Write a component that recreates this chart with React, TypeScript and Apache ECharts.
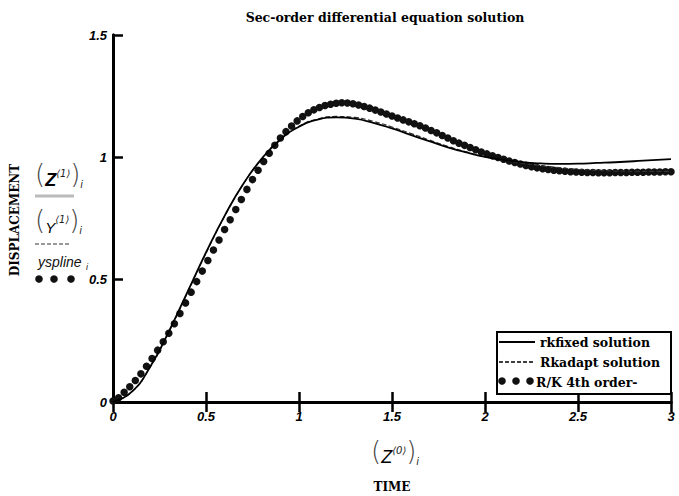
import React, { useEffect, useRef } from "react";
import * as echarts from "echarts";

// ---- data ----
const TITLE = "Sec-order differential equation solution";
const Y_NAME = "DISPLACEMENT";
const X_NAME = "TIME";
const xTicks = [0, 0.5, 1, 1.5, 2, 2.5, 3];
const yTicks = [0, 0.5, 1, 1.5];
const seriesNames = ["rkfixed solution", "Rkadapt solution", "R/K 4th order-"];

// rkfixed solution (solid)
const solidTime = [0, 0.1, 0.2, 0.3, 0.4, 0.5, 0.6, 0.7, 0.8, 0.9, 1.0, 1.1, 1.2, 1.3, 1.4, 1.5, 1.6, 1.7, 1.8, 1.9, 2.0, 2.1, 2.2, 2.3, 2.4, 2.5, 2.6, 2.7, 2.8, 2.9, 3.0];
const solidDisp = [0, 0.041, 0.144, 0.288, 0.449, 0.611, 0.761, 0.891, 0.995, 1.073, 1.125, 1.154, 1.163, 1.158, 1.141, 1.118, 1.092, 1.066, 1.041, 1.020, 1.002, 0.989, 0.980, 0.975, 0.973, 0.974, 0.977, 0.980, 0.984, 0.989, 0.993];

// Rkadapt solution (dashed)
const dashTime = [0, 0.1, 0.2, 0.3, 0.4, 0.5, 0.6, 0.7, 0.8, 0.9, 1.0, 1.1, 1.2, 1.3, 1.4, 1.5, 1.6, 1.7, 1.8, 1.9, 2.0, 2.1, 2.2, 2.3, 2.4, 2.5, 2.6, 2.7, 2.8, 2.9, 3.0];
const dashDisp = [0, 0.040, 0.142, 0.285, 0.446, 0.608, 0.759, 0.890, 0.995, 1.074, 1.127, 1.157, 1.167, 1.163, 1.147, 1.124, 1.098, 1.071, 1.045, 1.022, 1.002, 0.987, 0.976, 0.966, 0.958, 0.951, 0.947, 0.944, 0.943, 0.943, 0.943];

// R/K 4th order (dots)
const dotTime = [
  0, 0.03, 0.06, 0.09, 0.12, 0.15, 0.18, 0.21, 0.24, 0.27,
  0.30, 0.33, 0.36, 0.39, 0.42, 0.45, 0.48, 0.51, 0.54, 0.57,
  0.60, 0.63, 0.66, 0.69, 0.72, 0.75, 0.78, 0.81, 0.84, 0.87,
  0.90, 0.93, 0.96, 0.99, 1.02, 1.05, 1.08, 1.11, 1.14, 1.17,
  1.20, 1.23, 1.26, 1.29, 1.32, 1.35, 1.38, 1.41, 1.44, 1.47,
  1.50, 1.53, 1.56, 1.59, 1.62, 1.65, 1.68, 1.71, 1.74, 1.77,
  1.80, 1.83, 1.86, 1.89, 1.92, 1.95, 1.98, 2.01, 2.04, 2.07,
  2.10, 2.13, 2.16, 2.19, 2.22, 2.25, 2.28, 2.31, 2.34, 2.37,
  2.40, 2.43, 2.46, 2.49, 2.52, 2.55, 2.58, 2.61, 2.64, 2.67,
  2.70, 2.73, 2.76, 2.79, 2.82, 2.85, 2.88, 2.91, 2.94, 2.97,
  3.00,
];
const dotDisp = [
  0.004, 0.017, 0.040, 0.062, 0.088, 0.115, 0.146, 0.178, 0.212, 0.246,
  0.281, 0.320, 0.362, 0.405, 0.449, 0.492, 0.535, 0.578, 0.621, 0.662,
  0.705, 0.745, 0.787, 0.828, 0.869, 0.909, 0.947, 0.983, 1.017, 1.049,
  1.079, 1.105, 1.128, 1.149, 1.167, 1.182, 1.194, 1.204, 1.212, 1.217,
  1.221, 1.223, 1.222, 1.219, 1.214, 1.208, 1.201, 1.193, 1.185, 1.177,
  1.169, 1.161, 1.153, 1.145, 1.137, 1.129, 1.120, 1.110, 1.100, 1.089,
  1.079, 1.068, 1.058, 1.049, 1.040, 1.031, 1.022, 1.014, 1.006, 0.999,
  0.992, 0.985, 0.979, 0.973, 0.967, 0.962, 0.957, 0.953, 0.950, 0.947,
  0.945, 0.943, 0.941, 0.940, 0.939, 0.938, 0.938, 0.937, 0.937, 0.937,
  0.938, 0.938, 0.938, 0.939, 0.939, 0.939, 0.940, 0.940, 0.940, 0.941,
  0.941,
];

const SERIF = '"DejaVu Serif", "Liberation Serif", serif';
const SANS = '"Liberation Sans", Arial, sans-serif';

function txt(x: number, y: number, text: string, o: any = {}) {
  return {
    type: "text",
    x,
    y,
    rotation: o.rotation || 0,
    z: 100,
    style: {
      text,
      fontSize: o.size || 12,
      fontFamily: o.family || SANS,
      fontWeight: o.weight || "normal",
      fontStyle: o.style || "normal",
      fill: o.fill || "#000",
      align: o.align || "left",
      verticalAlign: o.valign || "middle",
    },
  };
}

// Mathcad-style "(X<n>)i" symbol drawn as one rich text
function mathSym(x0: number, yMid: number, letter: string, sup: string, letterSize: number, letterWeight: string) {
  return {
    type: "text",
    x: x0,
    y: yMid,
    z: 100,
    style: {
      text: `{p|(}{z|${letter}}{s|${sup}}{p|)}{i|i}`,
      align: "left",
      verticalAlign: "middle",
      rich: {
        p: { fontSize: 26, fontFamily: '"DejaVu Sans", sans-serif', fontWeight: 200, fill: "#444", lineHeight: 30, verticalAlign: "middle" },
        z: { fontSize: letterSize, fontFamily: SANS, fontStyle: "italic", fontWeight: letterWeight, fill: "#000", lineHeight: 24, verticalAlign: "bottom" },
        s: { fontSize: 10, fontFamily: '"DejaVu Sans", sans-serif', fontStyle: "italic", fill: "#222", lineHeight: 14, verticalAlign: "top", padding: [9, 0, 0, 0] },
        i: { fontSize: 10, fontFamily: SANS, fontStyle: "italic", fill: "#222", lineHeight: 12, verticalAlign: "bottom" },
      },
    },
  };
}

export default function App() {
  const ref = useRef<HTMLDivElement>(null);
  useEffect(() => {
    if (!ref.current) return;
    const chart = echarts.init(ref.current, undefined, { renderer: "svg" });
    const axisLabel = {
      fontFamily: SANS,
      fontStyle: "italic",
      fontWeight: "bold",
      fontSize: 13,
      color: "#000",
    };
    const frameLine = { show: true, lineStyle: { color: "#000", width: 3 } };
    const ticks = { show: true, inside: true, length: 10, lineStyle: { color: "#000", width: 2.5 } };

    const graphic: any[] = [
      txt(385, 17, TITLE, { size: 12.5, family: SERIF, weight: "bold", align: "center" }),
      txt(15, 220, Y_NAME, { size: 12, family: SERIF, weight: "bold", align: "center", rotation: Math.PI / 2 }),
      txt(392, 487, X_NAME, { size: 12, family: SERIF, weight: "bold", align: "center" }),
      // left symbolic legend (Mathcad style)
      mathSym(35, 174, "Z", "\u27e81\u27e9", 18, "bold"),
      { type: "line", z: 100, shape: { x1: 35, y1: 196, x2: 74, y2: 196 }, style: { stroke: "#bbb", lineWidth: 3 } },
      mathSym(35, 220, "Y", "\u27e81\u27e9", 15, "normal"),
      { type: "line", z: 100, shape: { x1: 35, y1: 244, x2: 71, y2: 244 }, style: { stroke: "#333", lineWidth: 1, lineDash: [4, 2] } },
      txt(38, 262, "yspline", { size: 14, style: "italic", fill: "#111" }),
      txt(86, 267, "i", { size: 9, style: "italic", fill: "#222" }),
      { type: "circle", z: 100, shape: { cx: 39, cy: 279, r: 3.8 }, style: { fill: "#111" } },
      { type: "circle", z: 100, shape: { cx: 54, cy: 279, r: 3.8 }, style: { fill: "#111" } },
      { type: "circle", z: 100, shape: { cx: 71, cy: 279, r: 3.8 }, style: { fill: "#111" } },
      // bottom symbolic label
      mathSym(371, 451, "Z", "\u27e80\u27e9", 18, "normal"),
      // legend box
      { type: "rect", z: 90, shape: { x: 497, y: 332, width: 174, height: 62 }, style: { fill: "#fff", stroke: "#000", lineWidth: 2 } },
      { type: "line", z: 100, shape: { x1: 499, y1: 342, x2: 535, y2: 342 }, style: { stroke: "#000", lineWidth: 2 } },
      txt(540, 342, seriesNames[0], { size: 12.5, family: SERIF, weight: "bold" }),
      { type: "line", z: 100, shape: { x1: 499, y1: 362, x2: 535, y2: 362 }, style: { stroke: "#000", lineWidth: 1.5, lineDash: [4, 2] } },
      txt(540, 362, seriesNames[1], { size: 12.5, family: SERIF, weight: "bold" }),
      { type: "circle", z: 100, shape: { cx: 502, cy: 381, r: 3.8 }, style: { fill: "#111" } },
      { type: "circle", z: 100, shape: { cx: 516, cy: 381, r: 3.8 }, style: { fill: "#111" } },
      { type: "circle", z: 100, shape: { cx: 530, cy: 381, r: 3.8 }, style: { fill: "#111" } },
      txt(536, 382, seriesNames[2], { size: 12.5, family: SERIF, weight: "bold" }),
    ];

    chart.setOption({
      animation: false,
      backgroundColor: "#fff",
      grid: { left: 113, right: 8, top: 35, bottom: 94, containLabel: false },
      xAxis: [
        {
          type: "value",
          position: "bottom",
          min: xTicks[0],
          max: xTicks[xTicks.length - 1],
          interval: 0.5,
          axisLine: frameLine,
          axisTick: ticks,
          splitLine: { show: false },
          axisLabel: { ...axisLabel, margin: 8 },
        },
        {
          type: "value",
          position: "top",
          min: xTicks[0],
          max: xTicks[xTicks.length - 1],
          interval: 0.5,
          axisLine: frameLine,
          axisTick: ticks,
          splitLine: { show: false },
          axisLabel: { show: false },
        },
      ],
      yAxis: [
        {
          type: "value",
          position: "left",
          min: yTicks[0],
          max: yTicks[yTicks.length - 1],
          interval: 0.5,
          axisLine: frameLine,
          axisTick: ticks,
          splitLine: { show: false },
          axisLabel: { ...axisLabel, margin: 6 },
        },
        {
          type: "value",
          position: "right",
          min: yTicks[0],
          max: yTicks[yTicks.length - 1],
          interval: 0.5,
          axisLine: frameLine,
          axisTick: { show: false },
          splitLine: { show: false },
          axisLabel: { show: false },
        },
      ],
      series: [
        {
          name: seriesNames[2],
          type: "scatter",
          data: dotTime.map((t, i) => [t, dotDisp[i]]),
          symbol: "circle",
          symbolSize: 7.5,
          itemStyle: { color: "#111", opacity: 1 },
          z: 2,
        },
        {
          name: seriesNames[1],
          type: "line",
          data: dashTime.map((t, i) => [t, dashDisp[i]]),
          smooth: true,
          symbol: "none",
          lineStyle: { color: "#333", width: 1.2, type: "dashed" },
          z: 3,
        },
        {
          name: seriesNames[0],
          type: "line",
          data: solidTime.map((t, i) => [t, solidDisp[i]]),
          smooth: true,
          symbol: "none",
          lineStyle: { color: "#000", width: 1.8 },
          z: 4,
        },
      ],
      graphic,
    });
    return () => chart.dispose();
  }, []);
  return (
    <div
      ref={ref}
      style={{ position: "fixed", left: 0, top: 0, width: 679, height: 496, background: "#fff" }}
    />
  );
}
